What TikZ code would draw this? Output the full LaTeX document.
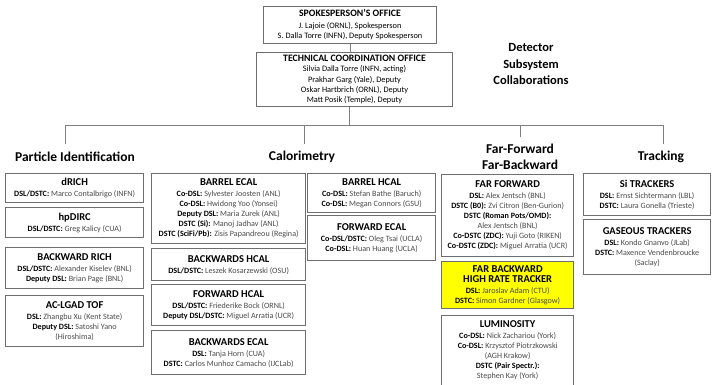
\documentclass[tikz,border=0pt]{standalone}
\usepackage{fontspec}
\setmainfont{Carlito}
\definecolor{boxline}{HTML}{6E6E6E}
\definecolor{nametxt}{HTML}{4A4A4A}
\definecolor{conn}{HTML}{7F7F7F}
\definecolor{hiyellow}{HTML}{FFFF00}
\newcommand\kw[1]{{\bfseries\color{black}#1}}
\newcommand\ttl[1]{{\fontsize{10.5}{11}\selectfont\bfseries\color{black}#1}}
\newcommand\ttlb[1]{{\fontsize{9.8}{11}\selectfont\bfseries\color{black}#1}}
\tikzset{
  box/.style={draw=boxline, line width=1.3pt, inner sep=0pt, align=center,
    anchor=north west, text=nametxt, font=\fontsize{8.1}{10}\selectfont},
  topbox/.style={box, line width=1pt, text=black, font=\fontsize{8.3}{10.4}\selectfont},
  heading/.style={font=\fontsize{13.5}{16}\selectfont\bfseries, align=center, inner sep=0pt},
  connector/.style={draw=conn, line width=0.9pt}
}
\begin{document}
\begin{tikzpicture}[x=1pt,y=-1pt]
\useasboundingbox (0,0) rectangle (714,385);

% top offices
\node[topbox, minimum width=173pt, minimum height=37pt] (spokes) at (263,6)
  {\ttlb{SPOKESPERSON’S OFFICE}\\[1pt]
   J. Lajoie (ORNL), Spokesperson\\
   S. Dalla Torre (INFN), Deputy Spokesperson};
\node[topbox, minimum width=196pt, minimum height=54pt] (tco) at (256,52)
  {\ttlb{TECHNICAL COORDINATION OFFICE}\\
   Silvia Dalla Torre (INFN, acting)\\
   Prakhar Garg (Yale), Deputy\\
   Oskar Hartbrich (ORNL), Deputy\\
   Matt Posik (Temple), Deputy};

\node[font=\fontsize{12.5}{16.5}\selectfont\bfseries, align=center, inner sep=0pt] (dsc) at (531,64)
  {Detector\\Subsystem\\Collaborations};

% headings
\node[heading] (hpid) at (75,157) {Particle Identification};
\node[heading] (hcal) at (302,157) {Calorimetry};
\node[heading] (hff) at (520,157) {Far-Forward\\Far-Backward};
\node[heading] (htrk) at (661,157) {Tracking};

% connectors
\coordinate (bar) at (349,125);
\coordinate (d1) at (65,144);
\coordinate (d2) at (304,144);
\coordinate (d3) at (520,137);
\coordinate (d4) at (663,144);
\draw[connector] (spokes.south) -- (spokes.south |- tco.north);
\draw[connector] (bar |- tco.south) -- (bar);
\draw[connector] (d1) -- (d1 |- bar) -- (d4 |- bar) -- (d4);
\draw[connector] (d2) -- (d2 |- bar);
\draw[connector] (d3) -- (d3 |- bar);

% Particle identification column
\node[box, minimum width=138pt, minimum height=29pt] (drich) at (5,173)
  {\ttl{dRICH}\\[1pt]\kw{DSL/DSTC:} Marco Contalbrigo (INFN)};
\node[box, minimum width=138pt, minimum height=30pt] (hpdirc) at (5,207)
  {\ttl{hpDIRC}\\[1pt]\kw{DSL/DSTC:} Greg Kalicy (CUA)};
\node[box, minimum width=138pt, minimum height=41pt] (brich) at (5,247)
  {\ttl{BACKWARD RICH}\\[1pt]\kw{DSL/DSTC:} Alexander Kiselev (BNL)\\
   \kw{Deputy DSL:} Brian Page (BNL)};
\node[box, minimum width=138pt, minimum height=51pt] (tof) at (5,295)
  {\ttl{AC-LGAD TOF}\\[1pt]\kw{DSL:} Zhangbu Xu (Kent State)\\
   \kw{Deputy DSL:} Satoshi Yano\\(Hiroshima)};

% Calorimetry column A
\node[box, minimum width=154pt, minimum height=70pt] (becal) at (151,173)
  {\ttl{BARREL ECAL}\\[1pt]
   \kw{Co-DSL:} Sylvester Joosten (ANL)\\
   \kw{Co-DSL:} Hwidong Yoo (Yonsei)\\
   \kw{Deputy DSL:} Maria Zurek (ANL)\\
   \kw{DSTC (Si):} Manoj Jadhav (ANL)\\
   \kw{DSTC (SciFi/Pb):} Zisis Papandreou (Regina)};
\node[box, minimum width=154pt, minimum height=32pt] (bhcal) at (151,248)
  {\ttl{BACKWARDS HCAL}\\[1pt]\kw{DSL/DSTC:} Leszek Kosarzewski (OSU)};
\node[box, minimum width=154pt, minimum height=41pt] (fhcal) at (151,284)
  {\ttl{FORWARD HCAL}\\[1pt]\kw{DSL/DSTC:} Friederike Bock (ORNL)\\
   \kw{Deputy DSL/DSTC:} Miguel Arratia (UCR)};
\node[box, minimum width=154pt, minimum height=44pt] (bkecal) at (151,330)
  {\ttl{BACKWARDS ECAL}\\[1pt]\kw{DSL:} Tanja Horn (CUA)\\
   \kw{DSTC:} Carlos Munhoz Camacho (IJCLab)};

% Calorimetry column B
\node[box, minimum width=128pt, minimum height=39pt] (brhcal) at (307,173)
  {\ttl{BARREL HCAL}\\[1pt]\kw{Co-DSL:} Stefan Bathe (Baruch)\\
   \kw{Co-DSL:} Megan Connors (GSU)};
\node[box, minimum width=128pt, minimum height=45pt] (fecal) at (307,215)
  {\ttl{FORWARD ECAL}\\[1pt]\kw{Co-DSL/DSTC:} Oleg Tsai (UCLA)\\
   \kw{Co-DSL:} Huan Huang (UCLA)};

% Far-forward / far-backward column
\node[box, minimum width=132pt, minimum height=82pt] (ffwd) at (441,174)
  {\ttl{FAR FORWARD}\\[1pt]
   \kw{DSL:} Alex Jentsch (BNL)\\
   \kw{DSTC (B0):} Zvi Citron (Ben-Gurion)\\
   \kw{DSTC (Roman Pots/OMD):}\\
   Alex Jentsch (BNL)\\
   \kw{Co-DSTC (ZDC):} Yuji Goto (RIKEN)\\
   \kw{Co-DSTC (ZDC):} Miguel Arratia (UCR)};
\node[box, fill=hiyellow, minimum width=132pt, minimum height=47pt] (fbwd) at (441,261)
  {\ttl{FAR BACKWARD}\\[-0.5pt]\ttl{HIGH RATE TRACKER}\\[1pt]
   \kw{DSL:} Jaroslav Adam (CTU)\\
   \kw{DSTC:} Simon Gardner (Glasgow)};
\node[box, minimum width=132pt, minimum height=80pt] (lumi) at (441,315) {};
\node[box, draw=none, anchor=north, minimum height=0pt] (lumitxt) at (lumi.north |- 0,320)
  {\ttl{LUMINOSITY}\\[1pt]
   \kw{Co-DSL:} Nick Zachariou (York)\\
   \kw{Co-DSL:} Krzysztof Piotrzkowski\\
   (AGH Krakow)\\
   \kw{DSTC (Pair Spectr.):}\\
   Stephen Kay (York)};

% Tracking column
\node[box, minimum width=127pt, minimum height=42pt] (sitrk) at (583,173)
  {\ttl{Si TRACKERS}\\[1pt]\kw{DSL:} Ernst Sichtermann (LBL)\\
   \kw{DSTC:} Laura Gonella (Trieste)};
\node[box, minimum width=127pt, minimum height=55pt] (gastrk) at (583,219)
  {\ttl{GASEOUS TRACKERS}\\[1pt]\kw{DSL:} Kondo Gnanvo (JLab)\\
   \kw{DSTC:} Maxence Vendenbroucke\\(Saclay)};
\end{tikzpicture}
\end{document}
